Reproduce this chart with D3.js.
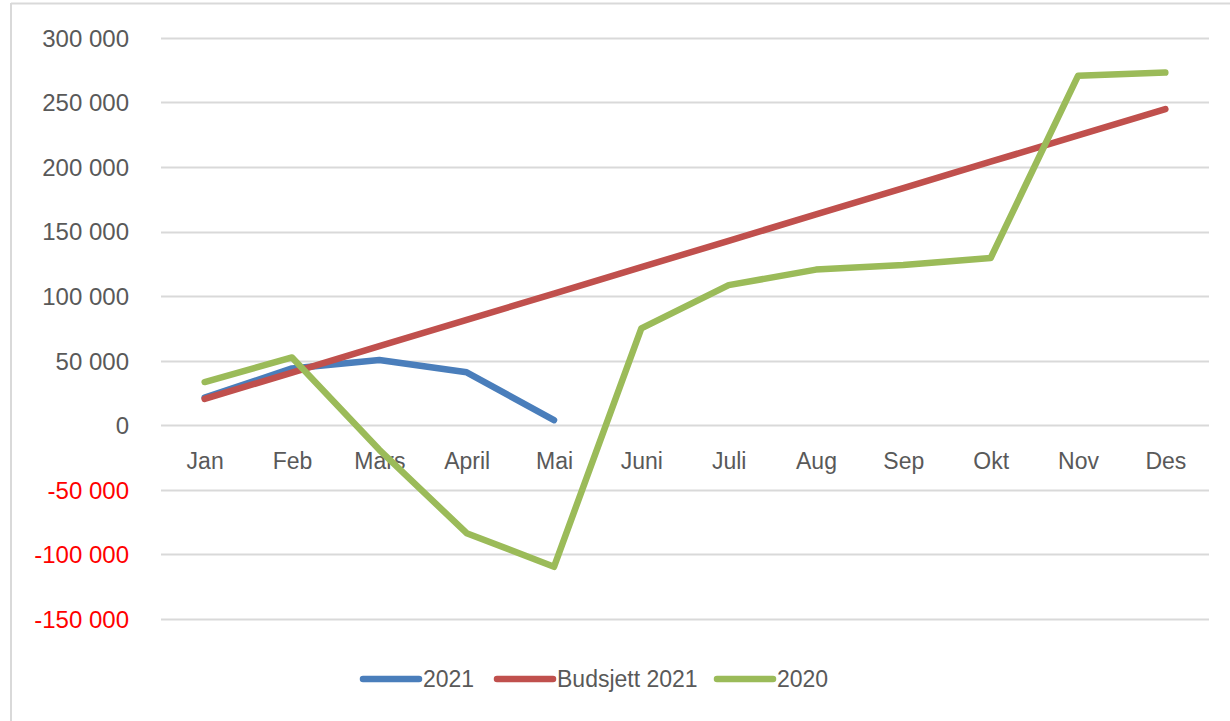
<!DOCTYPE html>
<html><head><meta charset="utf-8">
<script src="https://cdn.jsdelivr.net/npm/d3@7"></script>
<style>
body{margin:0;background:#fff;}
svg{display:block;font-family:"Liberation Sans",Arial,sans-serif;}
</style></head>
<body><svg id="c" width="1230" height="721"></svg>
<script>
const months = ["Jan","Feb","Mars","April","Mai","Juni","Juli","Aug","Sep","Okt","Nov","Des"];
const values2021 = [21500, 44000, 50500, 41000, 4000];
const budsjett2021 = [20400, 40800, 61200, 81600, 102000, 122400, 142800, 163200, 183600, 204000, 224400, 244800];
const values2020 = [33500, 52500, -19000, -83500, -109500, 75000, 108500, 120500, 124000, 129500, 270500, 273000];
const yTicks = [-150000, -100000, -50000, 0, 50000, 100000, 150000, 200000, 250000, 300000];
const seriesNames = ["2021", "Budsjett 2021", "2020"];
const seriesColors = ["#4A7EBB", "#C0504D", "#9BBB59"];

const svg = d3.select("#c");
// frame
svg.append("line").attr("x1",11).attr("x2",11).attr("y1",3).attr("y2",721).attr("stroke","#d9d9d9").attr("stroke-width",2);
svg.append("line").attr("x1",11).attr("x2",1230).attr("y1",3.5).attr("y2",3.5).attr("stroke","#d9d9d9").attr("stroke-width",2);

const x = d3.scalePoint().domain(months).range([161,1209]).padding(0.5);
const y = d3.scaleLinear().domain([0,300000]).range([425.3,37.7]);

const fmt = v => {
  const s = d3.format(",")(Math.abs(v)).replace(/,/g," ");
  return (v<0?"-":"") + s;
};

// grid
svg.append("g").selectAll("line").data(yTicks).join("line")
  .attr("x1",161).attr("x2",1209)
  .attr("y1",d=>Math.round(y(d))+0.5).attr("y2",d=>Math.round(y(d))+0.5)
  .attr("stroke","#d9d9d9").attr("stroke-width",2);

// y axis labels
const yAxis = d3.axisLeft(y).tickValues(yTicks).tickFormat(fmt).tickSize(0).tickPadding(0);
const ya = svg.append("g").attr("transform","translate(129,0)").call(yAxis);
ya.select(".domain").remove();
ya.selectAll("text").attr("font-size",24).attr("font-family","Liberation Sans, Arial, sans-serif")
  .attr("fill",d=>d<0?"#FF0000":"#595959").attr("dy","0.35em");

// x axis labels
const xAxis = d3.axisBottom(x).tickSize(0).tickPadding(0);
const xa = svg.append("g").attr("transform","translate(0,461)").call(xAxis);
xa.select(".domain").remove();
xa.selectAll("text").attr("font-size",23).attr("font-family","Liberation Sans, Arial, sans-serif")
  .attr("fill","#595959").attr("dy","0.35em");

const line = d3.line().x((d,i)=>x(months[i])).y(d=>y(d));
const data = [values2021, budsjett2021, values2020];
data.forEach((arr,k)=>{
  svg.append("path").attr("d",line(arr)).attr("fill","none")
    .attr("stroke",seriesColors[k]).attr("stroke-width",6.5)
    .attr("stroke-linejoin","round").attr("stroke-linecap","round");
});

// legend
const legX = [363, 497, 717];
const lg = svg.append("g");
seriesNames.forEach((n,k)=>{
  lg.append("line").attr("x1",legX[k]).attr("x2",legX[k]+56).attr("y1",679).attr("y2",679)
    .attr("stroke",seriesColors[k]).attr("stroke-width",6.5).attr("stroke-linecap","round");
  lg.append("text").attr("x",legX[k]+60).attr("y",679).attr("dy","0.36em")
    .attr("font-size",23).attr("fill","#595959").text(n);
});
</script></body></html>
